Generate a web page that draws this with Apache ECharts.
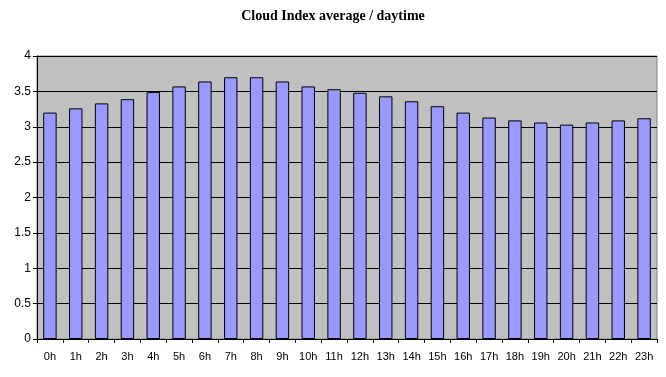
<!DOCTYPE html>
<html>
<head>
<meta charset="utf-8">
<script src="https://cdn.jsdelivr.net/npm/echarts@6/dist/echarts.min.js"></script>
<style>html,body{margin:0;padding:0;background:#fff;}#c{width:666px;height:377px;}</style>
</head>
<body>
<div id="c"></div>
<script>
const categories = ['0h','1h','2h','3h','4h','5h','6h','7h','8h','9h','10h','11h','12h','13h','14h','15h','16h','17h','18h','19h','20h','21h','22h','23h'];
const cloudIndex = [3.2,3.26,3.33,3.39,3.49,3.57,3.64,3.7,3.7,3.64,3.57,3.53,3.48,3.43,3.36,3.29,3.2,3.13,3.09,3.06,3.03,3.06,3.09,3.12];
const yTicks = [0,0.5,1,1.5,2,2.5,3,3.5,4];
const titleText = 'Cloud Index average / daytime';

const chart = echarts.init(document.getElementById('c'), null, {renderer:'canvas'});
chart.setOption({
  animation: false,
  backgroundColor: '#ffffff',
  title: {
    text: titleText,
    left: 'center',
    top: 4,
    textStyle: {fontFamily: 'Liberation Serif', fontWeight: 'bold', fontSize: 14, color: '#000'}
  },
  grid: {
    left: 37, right: 9, top: 56, bottom: 38,
    show: true, backgroundColor: '#C0C0C0', borderColor: '#808080', borderWidth: 1
  },
  xAxis: {
    type: 'category',
    data: categories,
    boundaryGap: true,
    axisLine: {show: true, lineStyle: {color: '#000', width: 1}},
    axisTick: {show: true, alignWithLabel: false, length: 4, inside: false, lineStyle: {color: '#000'}},
    axisLabel: {fontFamily: 'Liberation Sans', fontSize: 11, color: '#000', margin: 12, interval: 0},
    splitLine: {show: false}
  },
  yAxis: {
    type: 'value',
    min: yTicks[0], max: yTicks[yTicks.length-1], interval: 0.5,
    axisLine: {show: true, lineStyle: {color: '#000', width: 1}},
    axisTick: {show: true, length: 4, lineStyle: {color: '#000'}},
    axisLabel: {fontFamily: 'Liberation Sans', fontSize: 12, color: '#000', margin: 6},
    splitLine: {show: true, lineStyle: {color: '#000', width: 1}}
  },
  series: [{
    type: 'bar',
    data: cloudIndex,
    barCategoryGap: '48%',
    itemStyle: {color: '#9999FF', borderColor: '#000', borderWidth: 1}
  }]
});
</script>
</body>
</html>
